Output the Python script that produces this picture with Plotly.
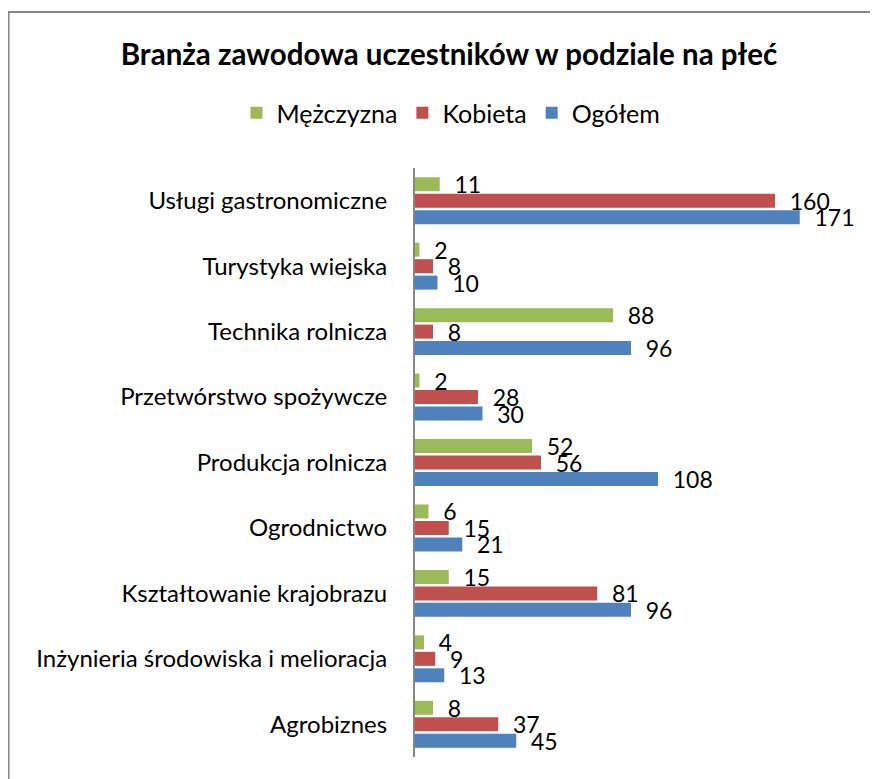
import plotly.graph_objects as go

categories = [
    "Usługi gastronomiczne",
    "Turystyka wiejska",
    "Technika rolnicza",
    "Przetwórstwo spożywcze",
    "Produkcja rolnicza",
    "Ogrodnictwo",
    "Kształtowanie krajobrazu",
    "Inżynieria środowiska i melioracja",
    "Agrobiznes",
]
mezczyzna = [11, 2, 88, 2, 52, 6, 15, 4, 8]
kobieta = [160, 8, 8, 28, 56, 15, 81, 9, 37]
ogolem = [171, 10, 96, 30, 108, 21, 96, 13, 45]

FONT = "Lato"
series = [
    ("Mężczyzna", mezczyzna, "#9BBB59"),
    ("Kobieta", kobieta, "#C0504D"),
    ("Ogółem", ogolem, "#4F81BD"),
]

fig = go.Figure()
for name, values, color in series:
    fig.add_trace(go.Bar(
        y=categories,
        x=values,
        name=name,
        orientation="h",
        marker=dict(color=color, line=dict(width=0)),
        text=values,
        texttemplate="  %{x}",
        textposition="outside",
        constraintext="none",
        cliponaxis=False,
        textfont=dict(family=FONT, size=23, color="#000000"),
    ))

# page body adds an 8px offset, so figure pixels = screen pixels - 8
W, H = 878, 779
ML, MR, MT, MB = 407, 21, 160, 30
pw, ph = W - ML - MR, H - MT - MB

fig.update_layout(
    width=W,
    height=H,
    margin=dict(l=ML, r=MR, t=MT, b=MB, autoexpand=False),
    paper_bgcolor="white",
    plot_bgcolor="white",
    barmode="group",
    bargap=0.245,
    bargroupgap=0.15,
    font=dict(family=FONT, size=24, color="#000000"),
    title=dict(
        text="<b>Branża zawodowa uczestników w podziale na płeć</b>",
        x=441 / W, xanchor="center",
        y=1 - 47 / H, yanchor="middle",
        font=dict(family=FONT, size=29.5, color="#000000"),
    ),
    legend=dict(
        orientation="h",
        xref="container", yref="container",
        x=443 / W, xanchor="center",
        y=1 - 105 / H, yanchor="middle",
        font=dict(family=FONT, size=25),
        itemwidth=30,
    ),
    showlegend=True,
)
fig.update_xaxes(range=[0, 200], visible=False, showgrid=False,
                 zeroline=False, automargin=False)
fig.update_yaxes(
    autorange="reversed",
    automargin=False,
    showline=True,
    linecolor="#868686",
    linewidth=2,
    showgrid=False,
    ticks="",
    ticklabelstandoff=21,
)
# chart area border (only top and left edges visible in reference)
fig.add_shape(
    type="rect", xref="paper", yref="paper",
    x0=(0.5 - ML) / pw, x1=1.2, y0=-0.2, y1=(H - MB - 4) / ph,
    line=dict(color="#868686", width=2),
)

fig.write_html("out.html")
